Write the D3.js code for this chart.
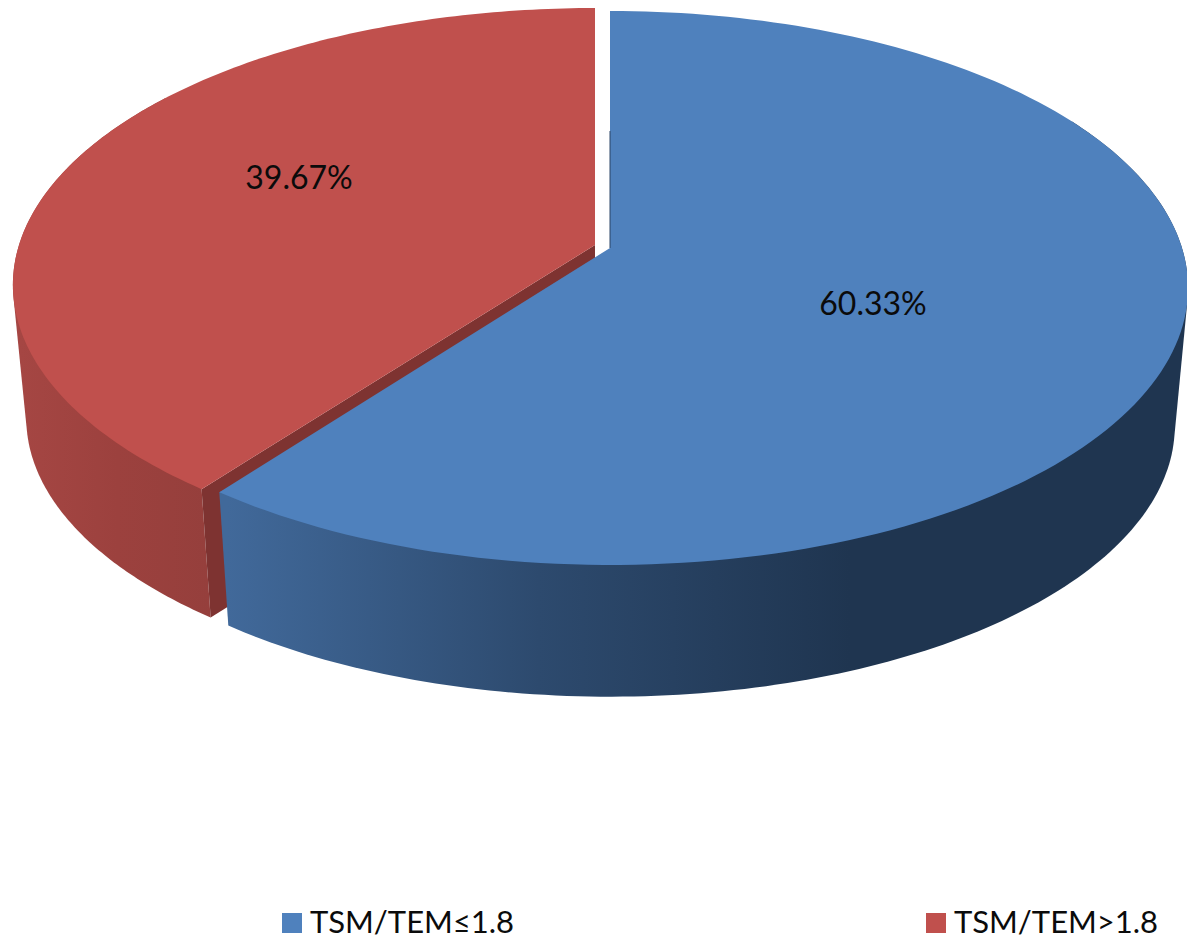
<!DOCTYPE html>
<html>
<head>
<meta charset="utf-8">
<style>
  html, body { margin: 0; padding: 0; background: #fff; }
  svg { display: block; }
  text { font-family: Lato, "Open Sans", sans-serif; fill: #0b0b0b; }
</style>
<script src="https://cdnjs.cloudflare.com/ajax/libs/d3/7.8.5/d3.min.js"></script>
</head>
<body>
<div id="chart"></div>
<script>
var categories = ['TSM/TEM≤1.8', 'TSM/TEM>1.8'];
var values = [60.33, 39.67];
var valueLabels = ['60.33%', '39.67%'];
var topColors = ['#4f81bd', '#c0504d'];

var width = 1187, height = 940;

var svg = d3.select('#chart').append('svg')
    .attr('width', width)
    .attr('height', height);

var defs = svg.append('defs');

// horizontal shading of the outer walls
function wallGradient ( id, x1, x2, stops ) {

    var g = defs.append('linearGradient')
        .attr('id', id)
        .attr('gradientUnits', 'userSpaceOnUse')
        .attr('x1', x1).attr('x2', x2)
        .attr('y1', 0).attr('y2', 0);

    stops.forEach( function ( s, i ) {

        g.append('stop')
            .attr('offset', i / ( stops.length - 1 ))
            .attr('stop-color', s);

    });

}

wallGradient( 'wall-blue', 228, 850, [ '#41699a', '#2d4a6e', '#1f3550' ] );
wallGradient( 'wall-red', 20, 215, [ '#a54643', '#9c413e', '#953f3c' ] );

// each slice is exploded a little, so it gets its own apex
var sliceGeo = [
    { cx: 610, cy: 248, rx: 572, ry: 271.2, tilt: 0.1444, depth: 139, shrink: 0.977 },
    { cx: 595, cy: 245, rx: 576, ry: 271.2, tilt: 0.1444, depth: 134, shrink: 0.977 }
];

// perspective projection of a point of the pie, r in 0..1, angle clockwise from the top
function project ( geo, angle, r, lower ) {

    var u = Math.sin( angle ) * r;
    var v = -Math.cos( angle ) * r;
    var s = lower ? geo.shrink : 1;
    var w = 1 - geo.tilt * v;

    return [
        geo.cx + geo.rx * s * u / w,
        geo.cy + ( lower ? geo.depth : 0 ) + geo.ry * s * v / w
    ];

}

function arcPoints ( geo, a0, a1, lower ) {

    var n = 160;

    return d3.range( n + 1 ).map( function ( i ) {

        return project( geo, a0 + ( a1 - a0 ) * i / n, 1, lower );

    });

}

var line = d3.line();

var pie = d3.pie().sort( null )( values );

function drawWall ( d, i, fill ) {

    var geo = sliceGeo[ i ];

    // only the part towards the viewer can show, the top face hides the rest
    var from = i === 0 ? Math.PI / 3 : d.startAngle;
    var to = i === 0 ? d.endAngle : Math.PI * 1.7;

    // the hull also fills the silhouette between the upper and lower rim
    var hull = d3.polygonHull( arcPoints( geo, from, to, false ).concat( arcPoints( geo, from, to, true ) ) );

    svg.append('path')
        .attr('d', line( hull ) + 'Z')
        .attr('fill', fill);

}

function drawTop ( d, i ) {

    var geo = sliceGeo[ i ];

    svg.append('path')
        .attr('d', line( [ [ geo.cx, geo.cy ] ].concat( arcPoints( geo, d.startAngle, d.endAngle, false ) ) ) + 'Z')
        .attr('fill', topColors[ i ]);

}

// red slice first, the blue one sits in front of it
drawWall( pie[1], 1, 'url(#wall-red)' );

var redGeo = sliceGeo[1];
var tipTop = project( redGeo, pie[1].startAngle, 1, false );
var tipLow = project( redGeo, pie[1].startAngle, 1, true );

svg.append('path')
    .attr('d', line( [
        [ redGeo.cx, redGeo.cy ],
        tipTop,
        tipLow,
        [ redGeo.cx, redGeo.cy + redGeo.depth ]
    ] ) + 'Z')
    .attr('fill', '#7e3331');

drawTop( pie[1], 1 );

drawWall( pie[0], 0, 'url(#wall-blue)' );
drawTop( pie[0], 0 );

// sliver of the blue cut face next to the gap
var blueGeo = sliceGeo[0];

svg.append('path')
    .attr('d', line( [ project( blueGeo, 0, 0.46, false ), [ blueGeo.cx, blueGeo.cy ] ] ))
    .attr('stroke', '#2b4567')
    .attr('stroke-width', 1)
    .attr('fill', 'none');

// value labels
var labelAt = [ [ 873, 315 ], [ 299, 189 ] ];

svg.selectAll('.value-label')
    .data( valueLabels )
    .enter().append('text')
    .attr('class', 'value-label')
    .attr('x', function ( d, i ) { return labelAt[ i ][ 0 ]; })
    .attr('y', function ( d, i ) { return labelAt[ i ][ 1 ]; })
    .attr('text-anchor', 'middle')
    .attr('font-size', 32)
    .text( function ( d ) { return d; });

// legend
var legendX = d3.scalePoint()
    .domain( categories )
    .range([ 282, 926 ]);

var legend = svg.selectAll('.legend')
    .data( categories )
    .enter().append('g')
    .attr('class', 'legend')
    .attr('transform', function ( d ) { return 'translate(' + legendX( d ) + ',0)'; });

legend.append('rect')
    .attr('y', 913)
    .attr('width', 20)
    .attr('height', 20)
    .attr('fill', function ( d, i ) { return topColors[ i ]; });

legend.append('text')
    .attr('x', 28)
    .attr('y', 933)
    .attr('font-size', 31)
    .text( function ( d ) { return d; });
</script>
</body>
</html>
